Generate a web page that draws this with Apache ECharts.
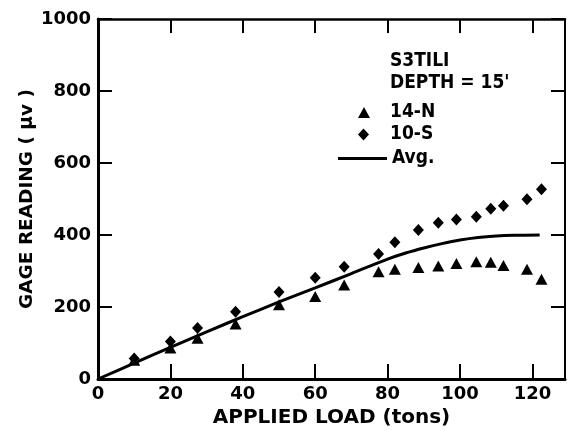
<!DOCTYPE html>
<html>
<head>
<meta charset="utf-8">
<script src="https://cdn.jsdelivr.net/npm/echarts@6/dist/echarts.min.js"></script>
<style>
  html, body { margin: 0; padding: 0; background: #fff; }
  #gageChart { width: 567px; height: 431px; }
</style>
</head>
<body>
<div id="gageChart"></div>
<script>
// applied load (tons) for the measured points
var loads = [10, 20, 27.5, 38, 50, 60, 68, 77.5, 82, 88.5, 94, 99, 104.5, 108.5, 112, 118.5, 122.5];
// gage readings (microvolts)
var gage14N = [52, 86, 113, 153, 206, 229, 261, 298, 305, 310, 314, 321, 326, 324, 315, 305, 277];
var gage10S = [57, 104, 142, 187, 242, 281, 312, 347, 380, 414, 434, 443, 451, 473, 481, 499, 527];
// average curve
var avgLoads = [0, 10, 20, 30, 40, 50, 60, 70, 80, 85, 90, 95, 100, 105, 110, 115, 122];
var avgGage = [0, 44, 88, 131, 173, 214, 253, 293, 333, 350, 364, 376, 386, 393, 397, 399, 400];
var xTicks = [0, 20, 40, 60, 80, 100, 120];
var yTicks = [0, 200, 400, 600, 800, 1000];

var pairs = function (xs, ys) {
    return xs.map(function (x, i) { return [x, ys[i]]; });
};

var gageChart = function () {
    var chart = echarts.init(document.getElementById('gageChart'));
    var font = 'DejaVu Sans';
    var legendFont = 'DejaVu Sans Condensed';
    var ink = '#000';
    var option = {
        animation: false,
        backgroundColor: '#fff',
        title: {
            text: "S3TILI\nDEPTH = 15'",
            left: 390,
            top: 50,
            padding: 0,
            textStyle: {
                color: ink,
                fontFamily: legendFont,
                fontWeight: 'bold',
                fontSize: 19,
                lineHeight: 22
            }
        },
        legend: [
            {
                data: ['14-N'],
                left: 358, top: 103,
                padding: 0,
                icon: 'triangle',
                itemWidth: 12, itemHeight: 11,
                textStyle: { color: ink, fontFamily: legendFont, fontWeight: 'bold', fontSize: 19, padding: [0, 0, 0, 15] }
            },
            {
                data: ['10-S'],
                left: 358, top: 125,
                padding: 0,
                icon: 'diamond',
                itemWidth: 11, itemHeight: 12,
                textStyle: { color: ink, fontFamily: legendFont, fontWeight: 'bold', fontSize: 19, padding: [0, 0, 0, 16] }
            },
            {
                data: ['Avg.'],
                left: 338, top: 149,
                padding: 0,
                icon: 'rect',
                itemWidth: 49, itemHeight: 3,
                textStyle: { color: ink, fontFamily: legendFont, fontWeight: 'bold', fontSize: 19 }
            }
        ],
        grid: {
            left: 98,
            right: 2,
            top: 19,
            bottom: 52,
            containLabel: false,
            outerBoundsMode: 'none'
        },
        xAxis: [
            {
                type: 'value',
                min: 0, max: 129, interval: 20,
                name: 'APPLIED LOAD (tons)',
                nameLocation: 'middle',
                nameGap: 27,
                nameTextStyle: { color: ink, fontFamily: font, fontWeight: 'bold', fontSize: 20 },
                axisLine: { show: true, onZero: false, lineStyle: { color: ink, width: 3 } },
                axisTick: { show: true, inside: true, length: 15, lineStyle: { color: ink, width: 2 } },
                splitLine: { show: false },
                axisLabel: {
                    color: ink, fontFamily: font, fontWeight: 'bold', fontSize: 18, margin: 6,
                    showMaxLabel: false,
                    formatter: function (v) { return xTicks.indexOf(v) >= 0 ? String(v) : ''; }
                }
            },
            {
                type: 'value',
                position: 'top',
                min: 0, max: 129, interval: 20,
                axisLine: { show: true, onZero: false, lineStyle: { color: ink, width: 2.5 } },
                axisTick: { show: true, inside: true, length: 14, lineStyle: { color: ink, width: 2 } },
                splitLine: { show: false },
                axisLabel: { show: false }
            }
        ],
        yAxis: [
            {
                type: 'value',
                min: 0, max: 1000, interval: 200,
                name: 'GAGE READING ( \u03bcv )',
                nameLocation: 'middle',
                nameGap: 61,
                nameMoveOverlap: false,
                nameTextStyle: { color: ink, fontFamily: font, fontWeight: 'bold', fontSize: 18.5 },
                axisLine: { show: true, onZero: false, lineStyle: { color: ink, width: 3 } },
                axisTick: { show: true, inside: true, length: 14, lineStyle: { color: ink, width: 2 } },
                splitLine: { show: false },
                axisLabel: {
                    color: ink, fontFamily: font, fontWeight: 'bold', fontSize: 18, margin: 7,
                    formatter: function (v) { return yTicks.indexOf(v) >= 0 ? String(v) : ''; }
                }
            },
            {
                type: 'value',
                position: 'right',
                min: 0, max: 1000, interval: 200,
                axisLine: { show: true, onZero: false, lineStyle: { color: ink, width: 2 } },
                axisTick: { show: true, inside: true, length: 14, lineStyle: { color: ink, width: 2 } },
                splitLine: { show: false },
                axisLabel: { show: false }
            }
        ],
        series: [
            {
                name: 'Avg.',
                type: 'line',
                data: pairs(avgLoads, avgGage),
                symbol: 'none',
                smooth: 0.3,
                lineStyle: { color: ink, width: 3 },
                itemStyle: { color: ink },
                z: 2
            },
            {
                name: '14-N',
                type: 'scatter',
                data: pairs(loads, gage14N),
                symbol: 'triangle',
                symbolSize: [12, 11],
                itemStyle: { color: ink, opacity: 1 },
                z: 3
            },
            {
                name: '10-S',
                type: 'scatter',
                data: pairs(loads, gage10S),
                symbol: 'diamond',
                symbolSize: [11, 12],
                itemStyle: { color: ink, opacity: 1 },
                z: 3
            }
        ]
    };
    chart.setOption(option);
};

gageChart();
</script>
</body>
</html>
